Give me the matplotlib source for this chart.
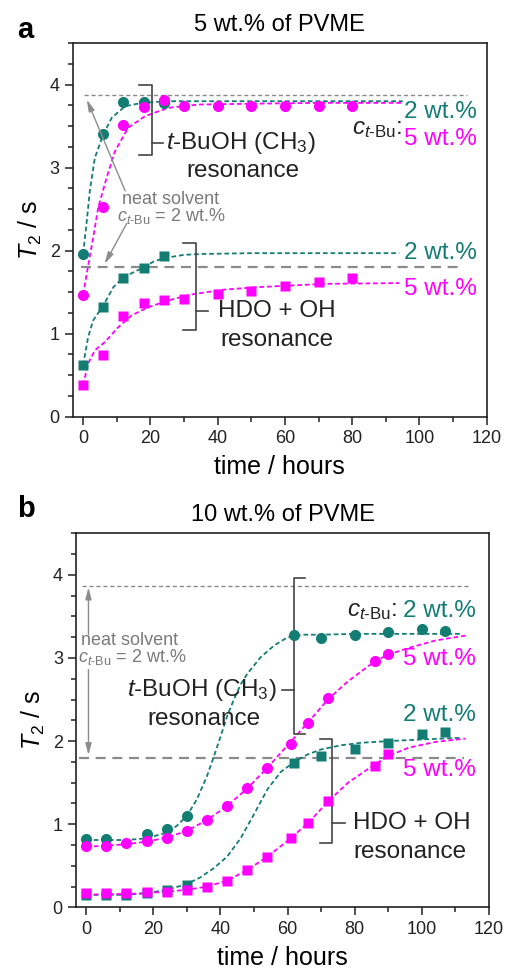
import numpy as np
import matplotlib
matplotlib.use('Agg')
import matplotlib.pyplot as plt
from matplotlib.ticker import MultipleLocator

plt.rcParams['font.family'] = ['Liberation Sans', 'DejaVu Sans']
plt.rcParams['mathtext.fontset'] = 'custom'
plt.rcParams['mathtext.rm'] = 'Liberation Sans'
plt.rcParams['mathtext.it'] = 'Liberation Sans:italic'

TEAL = '#137d74'
MAG = '#ff00ff'
GRAY = '#8a8a8a'
DARK = '#222222'

# ---------------- panel a: 5 wt.% of PVME ----------------
# t-BuOH (CH3) resonance, measured points
a_ch3_2_t = [0, 6, 12, 18, 24]
a_ch3_2_v = [1.96, 3.40, 3.79, 3.79, 3.78]
a_ch3_5_t = [0, 6, 12, 18, 24, 30, 40, 50, 60, 70, 80]
a_ch3_5_v = [1.47, 2.53, 3.51, 3.73, 3.81, 3.74, 3.74, 3.74, 3.74, 3.74, 3.74]
# HDO + OH resonance, measured points
a_hdo_2_t = [0, 6, 12, 18, 24]
a_hdo_2_v = [0.62, 1.32, 1.67, 1.79, 1.93]
a_hdo_5_t = [0, 6, 12, 18, 24, 30, 40, 50, 60, 70, 80]
a_hdo_5_v = [0.38, 0.74, 1.21, 1.37, 1.41, 1.42, 1.48, 1.52, 1.57, 1.62, 1.67]

# fitted curves
a_fit_ch3_2_t = [0, 1, 2, 3.5, 6, 8.5, 12.5, 17.5, 25, 40, 60, 95]
a_fit_ch3_2_v = [1.96, 2.32, 2.72, 3.12, 3.40, 3.60, 3.74, 3.78, 3.80, 3.80, 3.80, 3.80]
a_fit_ch3_5_t = [0, 1.6, 3, 4.5, 7, 9.5, 13.4, 18.4, 25.3, 34.3, 50, 70, 95]
a_fit_ch3_5_v = [1.47, 1.84, 2.16, 2.52, 2.88, 3.20, 3.48, 3.62, 3.72, 3.76, 3.77, 3.78, 3.78]
a_fit_hdo_2_t = [0, 1.5, 3, 6, 9, 12, 15, 18, 21, 24, 30, 35, 50, 70, 94]
a_fit_hdo_2_v = [0.62, 0.96, 1.16, 1.34, 1.56, 1.68, 1.74, 1.80, 1.87, 1.91, 1.95, 1.96, 1.97, 1.97, 1.97]
a_fit_hdo_5_t = [0, 1.5, 3.5, 6.5, 10.5, 14.4, 19.4, 25.3, 31.8, 41.7, 51.6, 61.5, 71.4, 94]
a_fit_hdo_5_v = [0.38, 0.64, 0.80, 0.90, 1.08, 1.22, 1.32, 1.40, 1.47, 1.53, 1.56, 1.58, 1.60, 1.61]

# ---------------- panel b: 10 wt.% of PVME ----------------
b_ch3_2_t = [0, 6, 18, 24, 30, 62, 70, 80, 90, 100, 107]
b_ch3_2_v = [0.82, 0.82, 0.88, 0.94, 1.10, 3.28, 3.24, 3.28, 3.31, 3.35, 3.33]
b_ch3_5_t = [0, 6, 12, 18, 24, 30, 36, 42, 48, 54, 61, 66, 72, 86, 90]
b_ch3_5_v = [0.74, 0.74, 0.77, 0.80, 0.84, 0.92, 1.05, 1.22, 1.43, 1.68, 1.97, 2.22, 2.52, 2.96, 3.05]
b_hdo_2_t = [0, 6, 12, 18, 24, 30, 62, 70, 80, 90, 100, 107]
b_hdo_2_v = [0.15, 0.15, 0.15, 0.17, 0.21, 0.27, 1.74, 1.82, 1.91, 1.98, 2.08, 2.11]
b_hdo_5_t = [0, 6, 12, 18, 24, 30, 36, 42, 48, 54, 61, 66, 72, 86, 90]
b_hdo_5_v = [0.17, 0.17, 0.17, 0.18, 0.19, 0.21, 0.25, 0.32, 0.45, 0.61, 0.83, 1.02, 1.28, 1.70, 1.84]

b_fit_ch3_2_t = [0, 6, 12, 18, 24, 27, 30, 33, 36, 38, 40, 42, 44, 46, 48, 52, 56, 60, 65, 70, 80, 112]
b_fit_ch3_2_v = [0.81, 0.81, 0.81, 0.83, 0.90, 0.98, 1.10, 1.30, 1.58, 1.81, 2.05, 2.30, 2.50, 2.68, 2.81,
                 3.01, 3.15, 3.25, 3.28, 3.28, 3.29, 3.29]
b_fit_ch3_5_t = [0, 6, 12, 18, 24, 30, 36, 42, 48, 54, 60, 66, 72, 78, 86, 90, 96, 104, 113]
b_fit_ch3_5_v = [0.73, 0.74, 0.76, 0.79, 0.84, 0.92, 1.05, 1.22, 1.43, 1.68, 1.95, 2.22, 2.50, 2.72,
                 2.96, 3.04, 3.12, 3.21, 3.27]
b_fit_hdo_2_t = [0, 6, 12, 18, 24, 30, 34, 38, 42, 46, 50, 54, 58, 62, 66, 70, 76, 82, 90, 100, 112]
b_fit_hdo_2_v = [0.15, 0.15, 0.15, 0.17, 0.21, 0.28, 0.36, 0.47, 0.61, 0.83, 1.12, 1.42, 1.63, 1.75,
                 1.84, 1.90, 1.95, 1.98, 2.00, 2.02, 2.04]
b_fit_hdo_5_t = [0, 6, 12, 18, 24, 30, 36, 42, 48, 54, 60, 66, 72, 78, 86, 90, 96, 104, 113]
b_fit_hdo_5_v = [0.15, 0.16, 0.16, 0.17, 0.19, 0.21, 0.25, 0.32, 0.45, 0.61, 0.80, 1.01, 1.27, 1.50,
                 1.72, 1.82, 1.92, 1.99, 2.03]

neat_ch3 = 3.87   # neat solvent T2, t-BuOH (CH3)
neat_hdo = 1.80   # neat solvent T2, HDO + OH

fig = plt.figure(figsize=(5.07, 9.73), dpi=100)
ax_a = fig.add_axes([0.144, 0.5717, 0.816, 0.384])
ax_b = fig.add_axes([0.150, 0.0675, 0.8146, 0.3844])

FS = 17.5
ctbu = r'$c_{t\text{-Bu}}$'


def style(ax, title):
    ax.set_xlim(-3, 120)
    ax.set_ylim(0, 4.5)
    ax.xaxis.set_major_locator(MultipleLocator(20))
    ax.xaxis.set_minor_locator(MultipleLocator(10))
    ax.yaxis.set_major_locator(MultipleLocator(1))
    ax.yaxis.set_minor_locator(MultipleLocator(0.25))
    ax.tick_params(which='both', direction='out', top=False, right=False, width=1.1, colors=DARK)
    ax.tick_params(which='major', length=6, labelsize=13)
    ax.tick_params(which='minor', length=3.5)
    for s in ax.spines.values():
        s.set_linewidth(1.2)
        s.set_color(DARK)
    ax.set_xlabel('time / hours', fontsize=18, labelpad=6)
    ax.set_ylabel(r'$T_2$ / s', fontsize=18, labelpad=4)
    ax.set_title(title, fontsize=17, pad=9)


def fit(ax, t, v, c):
    ax.plot(t, v, color=c, lw=1.3, ls=(0, (2.6, 1.6)), zorder=2)


def pts(ax, t, v, c, m):
    ax.plot(t, v, ls='none', marker=m, color=c, ms=8 if m == 'o' else 7.2, mec='none', zorder=3)


def bracket(ax, x, y0, y1, tip, mid_y, mid_tip):
    ax.plot([tip, x, x, tip], [y0, y0, y1, y1], color='#444444', lw=1.2, zorder=2)
    ax.plot([x, mid_tip], [mid_y, mid_y], color='#444444', lw=1.2, zorder=2)


def neat_lines(ax, x0, x1):
    ax.plot([x0, x1], [neat_ch3, neat_ch3], color=GRAY, lw=1.0, ls=(0, (3, 2)), zorder=1)
    ax.plot([x0 - 1, x1 - 2], [neat_hdo, neat_hdo], color=GRAY, lw=1.6, ls=(0, (4.5, 3)), zorder=1)


arrow = dict(arrowstyle='-|>,head_width=0.18,head_length=0.7', color='#8c8c8c', lw=1.0,
             shrinkA=0, shrinkB=0)

# panel letters
fig.text(17 / 507, 1 - 38 / 973, 'a', fontsize=21, fontweight='bold', ha='left', va='baseline')
fig.text(17 / 507, 1 - 517 / 973, 'b', fontsize=21, fontweight='bold', ha='left', va='baseline')

# ---- panel a ----
ax = ax_a
style(ax, '5 wt.% of PVME')
neat_lines(ax, 0.3, 114)
fit(ax, a_fit_ch3_2_t, a_fit_ch3_2_v, TEAL)
fit(ax, a_fit_ch3_5_t, a_fit_ch3_5_v, MAG)
fit(ax, a_fit_hdo_2_t, a_fit_hdo_2_v, TEAL)
fit(ax, a_fit_hdo_5_t, a_fit_hdo_5_v, MAG)
pts(ax, a_ch3_2_t, a_ch3_2_v, TEAL, 'o')
pts(ax, a_ch3_5_t, a_ch3_5_v, MAG, 'o')
pts(ax, a_hdo_2_t, a_hdo_2_v, TEAL, 's')
pts(ax, a_hdo_5_t, a_hdo_5_v, MAG, 's')
bracket(ax, 20.4, 4.0, 3.15, 16.7, 3.30, 23.8)
ax.text(24.6, 3.30, r'$t$-BuOH (CH$_3$)', fontsize=FS, ha='left', va='center', color=DARK)
ax.text(47.5, 2.96, 'resonance', fontsize=FS, ha='center', va='center', color=DARK)
bracket(ax, 33.5, 2.09, 1.05, 29.8, 1.27, 37.2)
ax.text(40.2, 1.27, 'HDO + OH', fontsize=FS, ha='left', va='center', color=DARK)
ax.text(57.6, 0.92, 'resonance', fontsize=FS, ha='center', va='center', color=DARK)
ax.text(95.3, 3.67, '2 wt.%', fontsize=FS, color=TEAL, ha='left', va='center')
ax.text(95.0, 3.47, ctbu + ':', fontsize=FS, color=DARK, ha='right', va='center')
ax.text(95.3, 3.34, '5 wt.%', fontsize=FS, color=MAG, ha='left', va='center')
ax.text(95.3, 1.97, '2 wt.%', fontsize=FS, color=TEAL, ha='left', va='center')
ax.text(95.3, 1.54, '5 wt.%', fontsize=FS, color=MAG, ha='left', va='center')
ax.text(26.0, 2.62, 'neat solvent', fontsize=13, color='#7a7a7a', ha='center', va='center')
ax.text(26.3, 2.42, ctbu + ' = 2 wt.%', fontsize=13, color='#7a7a7a', ha='center', va='center')
ax.annotate('', xy=(1.1, 3.82), xytext=(12.5, 2.72), arrowprops=arrow)
ax.annotate('', xy=(6.4, 1.84), xytext=(13.0, 2.33), arrowprops=arrow)

# ---- panel b ----
ax = ax_b
style(ax, '10 wt.% of PVME')
neat_lines(ax, -1.2, 114.4)
fit(ax, b_fit_ch3_2_t, b_fit_ch3_2_v, TEAL)
fit(ax, b_fit_ch3_5_t, b_fit_ch3_5_v, MAG)
fit(ax, b_fit_hdo_2_t, b_fit_hdo_2_v, TEAL)
fit(ax, b_fit_hdo_5_t, b_fit_hdo_5_v, MAG)
pts(ax, b_ch3_2_t, b_ch3_2_v, TEAL, 'o')
pts(ax, b_ch3_5_t, b_ch3_5_v, MAG, 'o')
pts(ax, b_hdo_2_t, b_hdo_2_v, TEAL, 's')
pts(ax, b_hdo_5_t, b_hdo_5_v, MAG, 's')
bracket(ax, 61.8, 3.96, 2.09, 65.3, 2.62, 58.3)
ax.text(56.8, 2.62, r'$t$-BuOH (CH$_3$)', fontsize=FS, ha='right', va='center', color=DARK)
ax.text(35.0, 2.27, 'resonance', fontsize=FS, ha='center', va='center', color=DARK)
bracket(ax, 73.2, 2.02, 0.77, 69.7, 1.02, 77.2)
ax.text(79.6, 1.02, 'HDO + OH', fontsize=FS, ha='left', va='center', color=DARK)
ax.text(96.5, 0.67, 'resonance', fontsize=FS, ha='center', va='center', color=DARK)
ax.text(92.6, 3.56, ctbu + ':', fontsize=FS, color=DARK, ha='right', va='center')
ax.text(94.5, 3.56, '2 wt.%', fontsize=FS, color=TEAL, ha='left', va='center')
ax.text(94.5, 2.99, '5 wt.%', fontsize=FS, color=MAG, ha='left', va='center')
ax.text(94.5, 2.31, '2 wt.%', fontsize=FS, color=TEAL, ha='left', va='center')
ax.text(94.5, 1.65, '5 wt.%', fontsize=FS, color=MAG, ha='left', va='center')
ax.text(-1.4, 3.21, 'neat solvent', fontsize=13, color='#7a7a7a', ha='left', va='center')
ax.text(-2.3, 3.01, ctbu + ' = 2 wt.%', fontsize=13, color='#7a7a7a', ha='left', va='center')
ax.annotate('', xy=(0.7, 3.85), xytext=(0.7, 3.28), arrowprops=arrow)
ax.annotate('', xy=(0.7, 1.83), xytext=(0.7, 2.86), arrowprops=arrow)

fig.savefig('out.png', dpi=100)
